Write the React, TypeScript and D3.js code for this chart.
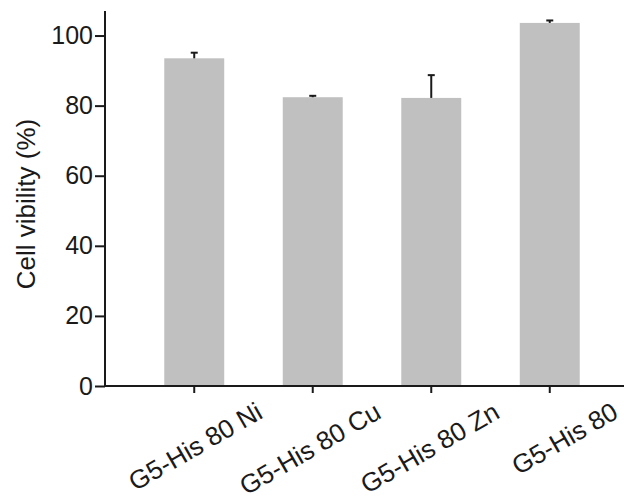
import React, { useEffect, useRef } from 'react'
import * as d3 from 'd3'

const categories = ['G5-His 80 Ni', 'G5-His 80 Cu', 'G5-His 80 Zn', 'G5-His 80']
const means = [93.5, 82.4, 82.2, 103.6]
const errors = [1.6, 0.4, 6.5, 0.7]
const yTicks = [0, 20, 40, 60, 80, 100]

const App = () => {
    const ref = useRef<SVGSVGElement | null>(null)

    useEffect(() => {
        document.body.style.margin = '0'
        const svg = d3.select(ref.current)
        svg.selectAll('*').remove()

        const font = 'Liberation Sans, Arial, sans-serif'
        const ink = '#1a1a1a'

        const x = d3.scaleBand<string>()
            .domain(categories)
            .range([105, 639])
            .paddingInner(0.494)
            .paddingOuter(0.5)

        const y = d3.scaleLinear()
            .domain([0, 107])
            .range([386, 11])

        const data = categories.map((c, i) => ({ name: c, mean: means[i], err: errors[i] }))

        // bars
        svg.append('g')
            .selectAll('rect')
            .data(data)
            .join('rect')
            .attr('x', d => x(d.name)!)
            .attr('y', d => y(d.mean))
            .attr('width', x.bandwidth())
            .attr('height', d => y(0) - y(d.mean))
            .attr('fill', '#c0c0c0')

        // error bars (upper only)
        const eb = svg.append('g')
            .attr('stroke', ink)
            .attr('stroke-width', 2)
        eb.selectAll('line.v')
            .data(data)
            .join('line')
            .attr('class', 'v')
            .attr('x1', d => x(d.name)! + x.bandwidth() / 2)
            .attr('x2', d => x(d.name)! + x.bandwidth() / 2)
            .attr('y1', d => y(d.mean))
            .attr('y2', d => y(d.mean + d.err))
        eb.selectAll('line.cap')
            .data(data)
            .join('line')
            .attr('class', 'cap')
            .attr('x1', d => x(d.name)! + x.bandwidth() / 2 - 3.5)
            .attr('x2', d => x(d.name)! + x.bandwidth() / 2 + 3.5)
            .attr('y1', d => y(d.mean + d.err))
            .attr('y2', d => y(d.mean + d.err))

        // y axis
        const yAxis = svg.append('g')
            .attr('transform', 'translate(105,0)')
            .call(d3.axisLeft(y).tickValues(yTicks).tickSize(10).tickSizeOuter(0).tickPadding(2))
        yAxis.select('.domain').attr('stroke', ink).attr('stroke-width', 2)
        yAxis.selectAll('.tick line').attr('stroke', ink).attr('stroke-width', 2)
        yAxis.selectAll('.tick text')
            .attr('font-family', font)
            .attr('font-size', 25)
            .attr('fill', ink)
        yAxis.select('.domain').attr('d', `M0,${y(0)}V${y.range()[1]}`)

        // x axis
        const xAxis = svg.append('g')
            .attr('transform', `translate(0,${y(0)})`)
            .call(d3.axisBottom(x).tickSize(7).tickSizeOuter(0))
        xAxis.select('.domain').attr('stroke', ink).attr('stroke-width', 2)
            .attr('d', 'M104,0H624')
        xAxis.selectAll('.tick line').attr('stroke', ink).attr('stroke-width', 2)
        xAxis.selectAll('.tick text')
            .attr('font-family', font)
            .attr('font-size', 26)
            .attr('fill', ink)
            .attr('text-anchor', 'end')
            .attr('y', 0)
            .attr('dy', 0)
            .attr('transform', 'translate(70,31) rotate(-30)')

        // y label
        svg.append('text')
            .attr('transform', 'translate(35,204) rotate(-90)')
            .attr('text-anchor', 'middle')
            .attr('font-family', font)
            .attr('font-size', 26)
            .attr('fill', ink)
            .text('Cell vibility (%)')
    }, [])

    return (
        <svg ref={ref} width={624} height={502} style={{ display: 'block', background: '#fff' }} />
    )
}

export default App
